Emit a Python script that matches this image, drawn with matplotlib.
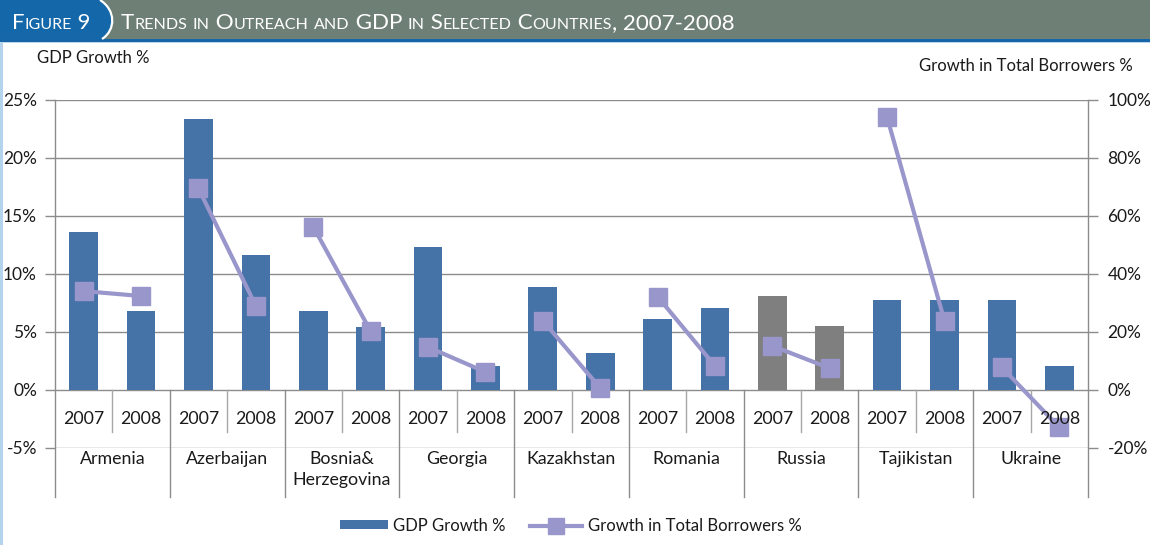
import matplotlib
matplotlib.use('Agg')
import matplotlib.pyplot as plt
from matplotlib.patches import Rectangle, PathPatch
from matplotlib.path import Path
from matplotlib.lines import Line2D

# ---------------- data ----------------
countries = ['Armenia', 'Azerbaijan', 'Bosnia&\nHerzegovina', 'Georgia', 'Kazakhstan',
             'Romania', 'Russia', 'Tajikistan', 'Ukraine']
years = ['2007', '2008']
gdp_growth = [13.6, 6.8, 23.4, 11.6, 6.8, 5.4, 12.3, 2.1, 8.9, 3.2,
              6.1, 7.1, 8.1, 5.5, 7.8, 7.8, 7.8, 2.1]
borrowers_growth = [34.1, 32.4, 69.5, 29.0, 56.3, 20.3, 14.8, 6.2, 23.9, 0.7,
                    32.2, 8.3, 15.2, 7.5, 94.0, 23.8, 7.8, -12.9]
gdp_ticks = [-5, 0, 5, 10, 15, 20, 25]
borrower_ticks = [-20, 0, 20, 40, 60, 80, 100]
highlight_country = 'Russia'

title_label = 'Figure 9'
title_text = 'Trends in Outreach and GDP in Selected Countries, 2007-2008'
left_label = 'GDP Growth %'
right_label = 'Growth in Total Borrowers %'
legend_labels = ['GDP Growth %', 'Growth in Total Borrowers %']

# ---------------- style ----------------
FONT = 'Lato'
plt.rcParams['font.family'] = [FONT, 'DejaVu Sans']
BAR_BLUE = '#4572A7'
BAR_GRAY = '#7F7F7F'
LINE_COL = '#9996CB'
GRID = '#8C8C8C'
TXT = '#1A1A1A'
TICK_FS = 12.5
CAT_FS = 12.8
LAB_FS = 12
LEG_FS = 12

W, H = 1150, 545
fig = plt.figure(figsize=(W / 100, H / 100), dpi=100)
fig.patch.set_facecolor('white')

# plot axes: x 55..1088 px, y 100..448 px
ax = fig.add_axes([55 / W, 1 - 448 / H, (1088 - 55) / W, (448 - 100) / H])
ax.set_facecolor('none')
n = len(countries) * len(years)
ax.set_xlim(0, n)
ax.set_ylim(gdp_ticks[0], gdp_ticks[-1])
for s in ax.spines.values():
    s.set_visible(False)
ax.set_xticks([])
ax.set_yticks(gdp_ticks)
ax.set_yticklabels([f'{v}%' for v in gdp_ticks])
ax.tick_params(axis='y', direction='out', length=7, width=1, color=GRID,
               labelsize=TICK_FS, pad=6, labelcolor=TXT)

ax2 = ax.twinx()
ax2.set_ylim(borrower_ticks[0], borrower_ticks[-1])
for s in ax2.spines.values():
    s.set_visible(False)
ax2.set_yticks(borrower_ticks)
ax2.set_yticklabels([f'{v}%' for v in borrower_ticks])
ax2.tick_params(axis='y', direction='out', length=7, width=1, color=GRID,
                labelsize=TICK_FS, pad=7, labelcolor=TXT)

# gridlines
for v in gdp_ticks:
    ax.axhline(v, color=GRID, lw=1, zorder=1)

# bars
xs = [i + 0.5 for i in range(n)]
colors = []
for c in countries:
    for y in years:
        colors.append(BAR_GRAY if c == highlight_country else BAR_BLUE)
ax.bar(xs, gdp_growth, width=0.5, color=colors, zorder=2)

# line segments per country
for k in range(len(countries)):
    i0 = 2 * k
    ax2.plot(xs[i0:i0 + 2], borrowers_growth[i0:i0 + 2], color=LINE_COL, lw=3,
             marker='s', ms=13, mec=LINE_COL, mfc=LINE_COL, zorder=3, clip_on=False,
             solid_capstyle='butt')

# category axis structure
unit = 5.0 / 58.0  # data units per pixel on left axis
y_bottom = -(497 - 390) * unit
y_yearsep = -(432 - 390) * unit
for xv in [0, n]:
    ax.plot([xv, xv], [gdp_ticks[-1], y_bottom], color=GRID, lw=1, clip_on=False, zorder=1)
for j in range(1, n):
    if j % 2 == 0:
        ax.plot([j, j], [0, y_bottom], color=GRID, lw=1, clip_on=False, zorder=1)
    else:
        ax.plot([j, j], [0, y_yearsep], color='#A6A6A6', lw=1, clip_on=False, zorder=1)

for i in range(n):
    ax2.text(xs[i], -2.5 * 4, years[i % 2], ha='center', va='center',
             fontsize=CAT_FS, color=TXT, transform=ax2.transData, zorder=10)
for k, c in enumerate(countries):
    ax.text(2 * k + 1, -(451 - 390) * unit, c, ha='center', va='top',
            fontsize=CAT_FS, color=TXT, linespacing=1.4, clip_on=False)

# ---------------- overlay (title bar, labels, legend) ----------------
ov = fig.add_axes([0, 0, 1, 1], zorder=5)
ov.set_xlim(0, W)
ov.set_ylim(H, 0)
ov.axis('off')
ov.patch.set_visible(False)

ov.add_patch(Rectangle((0, 0), W, 39, color='#6E7F75', lw=0))
ov.add_patch(Rectangle((0, 39), W, 2.5, color='#1565A8', lw=0))
ov.add_patch(Rectangle((0, 41.5), W, 1.5, color='#BBD7EE', lw=0))
ov.add_patch(Rectangle((0, 43), 2.5, H - 43, color='#B5D3EC', lw=0))

verts = [(0, 0), (100, 0), (116, 10), (116, 30), (102, 39), (0, 39), (0, 0)]
codes = [Path.MOVETO, Path.LINETO, Path.CURVE4, Path.CURVE4, Path.CURVE4, Path.LINETO, Path.CLOSEPOLY]
ov.add_patch(PathPatch(Path(verts, codes), facecolor='#1467A8', edgecolor='none'))
cverts = [(100, 0), (116, 10), (116, 30), (102, 39)]
ccodes = [Path.MOVETO, Path.CURVE4, Path.CURVE4, Path.CURVE4]
ov.add_patch(PathPatch(Path(cverts, ccodes), facecolor='none', edgecolor='white', lw=1.6))

fig.canvas.draw()
renderer = fig.canvas.get_renderer()


def text_width(s, size):
    t = ov.text(0, 0, '|' + s + '|', fontsize=size)
    w1 = t.get_window_extent(renderer).width
    t.remove()
    t = ov.text(0, 0, '||', fontsize=size)
    w2 = t.get_window_extent(renderer).width
    t.remove()
    return w1 - w2


def runs_of(s):
    runs = []
    for ch in s:
        small = ch.islower()
        if runs and runs[-1][1] == small:
            runs[-1][0] += ch
        else:
            runs.append([ch, small])
    return runs


def smallcaps(x0, x1, ybase, s, big, ratio, color):
    runs = runs_of(s)
    total = sum(text_width(r.upper() if sm else r, big * ratio if sm else big) for r, sm in runs)
    big = big * (x1 - x0) / total
    x = x0
    for r, sm in runs:
        size = big * ratio if sm else big
        txt = r.upper() if sm else r
        ov.text(x, ybase, txt, fontsize=size, color=color, va='baseline', ha='left')
        x += text_width(txt, size)


smallcaps(12, 90, 29, title_label, 17, 0.72, 'white')
smallcaps(121, 733, 29, title_text, 17, 0.72, 'white')

ov.text(37, 58, left_label, fontsize=LAB_FS, color=TXT, ha='left', va='center')
ov.text(1133, 66, right_label, fontsize=LAB_FS, color=TXT, ha='right', va='center')

# legend
ov.add_patch(Rectangle((340, 520), 48, 9, color=BAR_BLUE, lw=0))
ov.text(393, 526, legend_labels[0], fontsize=LEG_FS, color=TXT, ha='left', va='center')
ov.add_line(Line2D([530, 582], [525.5, 525.5], color=LINE_COL, lw=3))
ov.add_line(Line2D([556], [525.5], color=LINE_COL, marker='s', ms=12, mec=LINE_COL))
ov.text(588, 526, legend_labels[1], fontsize=LEG_FS, color=TXT, ha='left', va='center')

fig.savefig('out.png', dpi=100, facecolor='white')
